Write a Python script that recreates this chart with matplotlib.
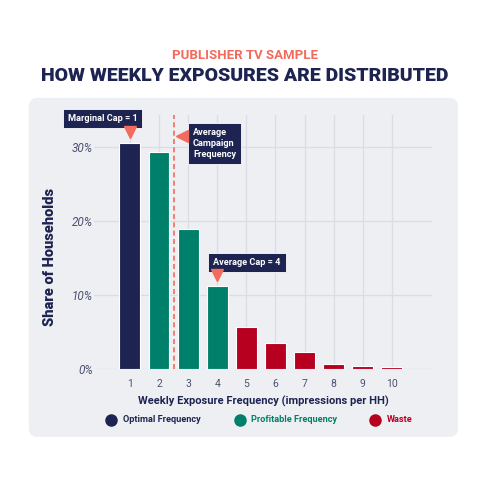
import matplotlib
matplotlib.use("Agg")
import matplotlib.pyplot as plt
from matplotlib.patches import FancyBboxPatch
from matplotlib.lines import Line2D

# Data
frequencies = [1, 2, 3, 4, 5, 6, 7, 8, 9, 10]
share_pct = [30.6, 29.3, 18.9, 11.2, 5.7, 3.5, 2.3, 0.7, 0.45, 0.3]
groups = ["optimal", "profitable", "profitable", "profitable",
          "waste", "waste", "waste", "waste", "waste", "waste"]
avg_campaign_freq = 2.5
marginal_cap = 1
average_cap = 4
y_ticks = [0, 10, 20, 30]
y_tick_labels = ["0%", "10%", "20%", "30%"]

NAVY = "#1d2451"
GREEN = "#007f6a"
RED = "#b7001f"
CORAL = "#f26b5c"
PANEL = "#eeeff3"
GRID = "#dcdde4"
TICK = "#4b5070"

COLORS = {"optimal": NAVY, "profitable": GREEN, "waste": RED}

plt.rcParams["font.family"] = ["Roboto", "DejaVu Sans"]

fig = plt.figure(figsize=(4.8, 4.8), dpi=100)
fig.patch.set_facecolor("white")

# light rounded panel behind the chart
panel = FancyBboxPatch((0.060, 0.090), 0.894, 0.706,
                       boxstyle="round,pad=0.0,rounding_size=0.018",
                       transform=fig.transFigure, facecolor=PANEL,
                       edgecolor="none", zorder=0)
fig.add_artist(panel)

fig.text(0.51, 0.885, "PUBLISHER TV SAMPLE", ha="center", va="center",
         color=CORAL, fontsize=9.5, fontweight="bold")
fig.text(0.51, 0.841, "HOW WEEKLY EXPOSURES ARE DISTRIBUTED", ha="center",
         va="center", color=NAVY, fontsize=14, fontweight="black")

ax = fig.add_axes([0.196, 0.231, 0.704, 0.529])
ax.set_facecolor("none")

ax.bar(frequencies, share_pct, width=0.72,
       color=[COLORS[g] for g in groups], edgecolor="white",
       linewidth=0.8, zorder=3)

ax.set_xlim(-0.23, 11.38)
ax.set_ylim(0, 34.3)
ax.set_xticks(frequencies)
ax.set_xticklabels([str(f) for f in frequencies])
ax.set_yticks(y_ticks)
ax.set_yticklabels(y_tick_labels, fontstyle="italic")
ax.tick_params(axis="x", length=0, pad=7, labelsize=7.5, labelcolor=TICK)
ax.tick_params(axis="y", length=0, pad=1, labelsize=8.5, labelcolor=TICK)
ax.grid(True, color=GRID, linewidth=0.9, zorder=0)
for spine in ax.spines.values():
    spine.set_visible(False)

ax.set_xlabel("Weekly Exposure Frequency (impressions per HH)", color=NAVY,
              fontsize=8, fontweight="bold", labelpad=5)
ax.set_ylabel("Share of Households", color=NAVY, fontsize=10.5,
              fontweight="black")
ax.yaxis.set_label_coords(-0.11, 0.44)

# average campaign frequency marker
ax.axvline(avg_campaign_freq, color=CORAL, linestyle=(0, (3, 2)),
           linewidth=1.2, zorder=4)

box = dict(boxstyle="square,pad=0.55", facecolor=NAVY, edgecolor="white",
           linewidth=0.6)

ax.text(0.06, 33.8, "Marginal Cap = 1", ha="center", va="center",
        color="white", fontsize=6.6, fontweight="bold", bbox=box,
        zorder=6, clip_on=False)
ax.plot(marginal_cap, 32.0, marker="v", color=CORAL, markersize=9,
        zorder=7, clip_on=False)

ax.text(3.17, 30.5, "Average\nCampaign\nFrequency", ha="left", va="center",
        color="white", fontsize=6.6, fontweight="bold", bbox=box,
        linespacing=1.3, zorder=6)
ax.plot(2.78, 31.5, marker="<", color=CORAL, markersize=9, zorder=7)

ax.text(5.02, 14.4, "Average Cap = 4", ha="center", va="center",
        color="white", fontsize=6.6, fontweight="bold", bbox=box, zorder=6)
ax.plot(average_cap, 12.7, marker="v", color=CORAL, markersize=9, zorder=7)

# legend row
legend_items = [
    (0.231, 0.256, "Optimal Frequency", NAVY),
    (0.500, 0.523, "Profitable Frequency", GREEN),
    (0.781, 0.806, "Waste", RED),
]
for dot_x, text_x, label, color in legend_items:
    fig.add_artist(Line2D([dot_x], [0.125], marker="o", markersize=8,
                          color=color, linestyle="none",
                          transform=fig.transFigure))
    fig.text(text_x, 0.125, label, ha="left", va="center", color=color,
             fontsize=6.6, fontweight="bold")

fig.savefig("out.png", dpi=100, facecolor=fig.get_facecolor())
